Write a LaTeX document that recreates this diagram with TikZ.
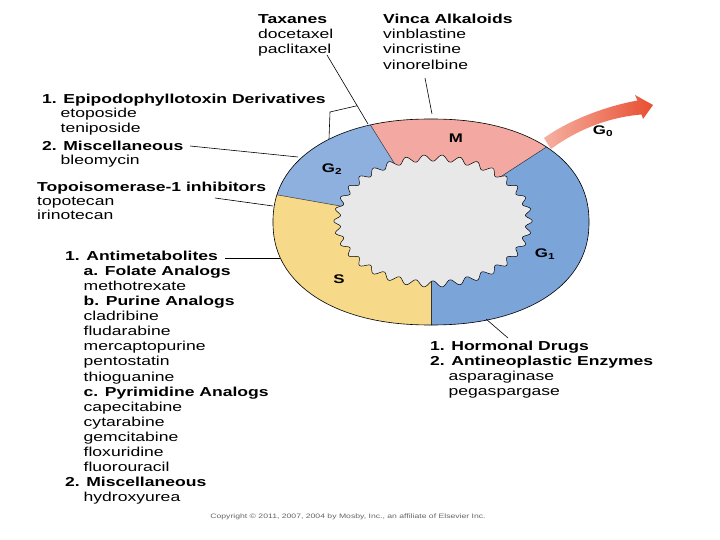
\documentclass[tikz,border=0pt]{standalone}
\usepackage{fontspec}
\setmainfont[FakeStretch=1.35]{Liberation Sans}
\usetikzlibrary{calc}
\definecolor{Mcol}{RGB}{243,169,162}
\definecolor{Gtwo}{RGB}{141,176,222}
\definecolor{Gone}{RGB}{123,164,217}
\definecolor{Scol}{RGB}{247,217,138}
\definecolor{gearcol}{RGB}{232,232,232}
\definecolor{arrA}{RGB}{246,176,162}
\definecolor{arrB}{RGB}{232,78,48}
\newcommand\fst{\rule{0pt}{11pt}}
\newcommand\ind{\hspace*{18.5pt}}
\begin{document}
\begin{tikzpicture}[x=1pt,y=-1pt,
  outerp/.style={insert path={plot[domain=0:360,samples=241,variable=\q] ({431+158*cos(\q)*(abs(cos(\q))+0.001)^(-0.0909)},{222+103*sin(\q)*(abs(sin(\q))+0.001)^(-0.0909)}) -- cycle}},
  txt/.style={anchor=north west, inner sep=0pt, align=left},
  lab/.style={inner sep=0pt, font=\fontsize{12.5}{14}\selectfont\bfseries},
  leader/.style={draw=black, line width=0.6pt},
  bline/.style={draw=black!80, line width=0.5pt},
  ]
\fill[white] (0,0) rectangle (720,540);
\useasboundingbox (0,0) rectangle (720,540);

% ring sectors
\coordinate (c) at (431,222);
\begin{scope}
  \clip[outerp];
  \fill[Mcol, shift={(c)}] (0,0) -- (-33:300) -- (-78:300) -- (-122:300) -- cycle;
  \fill[Gtwo, shift={(c)}] (0,0) -- (-122:300) -- (-146:300) -- (-170:300) -- cycle;
  \fill[Scol, shift={(c)}] (0,0) -- (-170:300) -- (-203:300) -- (-236:300) -- (-270:300) -- cycle;
  \fill[Gone, shift={(c)}] (0,0) -- (90:300) -- (60:300) -- (30:300) -- (0:300) -- (-33:300) -- cycle;
  \draw[bline, shift={(c)}] (0,0) -- (-33:300);
  \draw[bline, shift={(c)}] (0,0) -- (-122:300);
  \draw[bline, shift={(c)}] (0,0) -- (-170:300);
  \draw[bline, shift={(c)}] (0,0) -- (90:300);
\end{scope}
\draw[black, line width=0.6pt, outerp];

% inner gear
\filldraw[fill=gearcol, draw=black, line width=0.5pt]
  plot[domain=0:360, samples=409, variable=\q]
  ({433+(96+3.2*cos(34*\q))*cos(\q)},{221+(63+3.2*cos(34*\q))*sin(\q)}) -- cycle;

% phase labels
\node[lab] (Mlab) at (456,138) {M};
\node[lab] (G2lab) at (332,169) {G\textsubscript{2}};
\node[lab] (G1lab) at (545,254) {G\textsubscript{1}};
\node[lab] (Slab) at (339,279) {S};

% G0 arrow
\shade[left color=arrA, right color=arrB]
  (544,138) .. controls (571,119) and (607,106) .. (637.5,100.5)
  -- (635,95) -- (653,105) -- (643,119) -- (641.5,114.5)
  .. controls (610,117) and (578,129) .. (551,149) -- cycle;
\node[lab] (G0lab) at (603,131) {G\textsubscript{0}};

% text blocks
\node[txt, font=\fontsize{13}{15}\selectfont] (tax) at (258,12)
  {\fst\textbf{Taxanes}\\docetaxel\\paclitaxel};
\node[txt, font=\fontsize{13}{15.3}\selectfont] (vinca) at (383,12)
  {\fst\textbf{Vinca Alkaloids}\\vinblastine\\vincristine\\vinorelbine};
\node[txt, font=\fontsize{13}{14.5}\selectfont] (epi) at (42,92)
  {\fst\textbf{1. Epipodophyllotoxin Derivatives}\\\ind etoposide\\\ind teniposide};
\node[txt, font=\fontsize{13}{14}\selectfont] (misc) at (42,139)
  {\fst\textbf{2. Miscellaneous}\\\ind bleomycin};
\node[txt, font=\fontsize{13}{14}\selectfont] (topo) at (37,180)
  {\fst\textbf{Topoisomerase-1 inhibitors}\\topotecan\\irinotecan};
\node[txt, font=\fontsize{13}{15.1}\selectfont] (anti) at (65,249)
  {\fst\textbf{1. Antimetabolites}\\
   \ind\textbf{a. Folate Analogs}\\
   \ind methotrexate\\
   \ind\textbf{b. Purine Analogs}\\
   \ind cladribine\\
   \ind fludarabine\\
   \ind mercaptopurine\\
   \ind pentostatin\\
   \ind thioguanine\\
   \ind\textbf{c. Pyrimidine Analogs}\\
   \ind capecitabine\\
   \ind cytarabine\\
   \ind gemcitabine\\
   \ind floxuridine\\
   \ind fluorouracil\\
   \textbf{2. Miscellaneous}\\
   \ind hydroxyurea};
\node[txt, font=\fontsize{13}{15}\selectfont] (horm) at (430,339)
  {\fst\textbf{1. Hormonal Drugs}\\
   \textbf{2. Antineoplastic Enzymes}\\
   \ind asparaginase\\
   \ind pegaspargase};
\node[font=\fontsize{6.4}{8}\selectfont, text=black!60, anchor=base, inner sep=0pt] (copy) at (348,518)
  {Copyright © 2011, 2007, 2004 by Mosby, Inc., an affiliate of Elsevier Inc.};

% leader lines
\coordinate (taxA) at (327,55);
\coordinate (mgtop) at (368,124);
\draw[leader] (taxA) -- (mgtop);
\coordinate (epiJ) at ($(taxA)!0.735!(mgtop)$);
\coordinate (epiK) at (330,112);
\coordinate (epiE) at (329,139);
\draw[leader] (epiJ) -- (epiK) -- (epiE);
\coordinate (vinA) at (425,78);
\coordinate (vinE) at (432,114);
\draw[leader] (vinA) -- (vinE);
\coordinate (miscA) at (190,146);
\coordinate (miscE) at (298,157);
\draw[leader] (miscA) -- (miscE);
\coordinate (topoA) at (215,198);
\coordinate (topoE) at (273,206);
\draw[leader] (topoA) -- (topoE);
\coordinate (antiA) at (225,258);
\coordinate (antiE) at (280,258);
\draw[leader] (antiA) -- (antiE);
\coordinate (horA) at (508,338);
\coordinate (horE) at (486,319);
\draw[leader] (horA) -- (horE);
\end{tikzpicture}
\end{document}
